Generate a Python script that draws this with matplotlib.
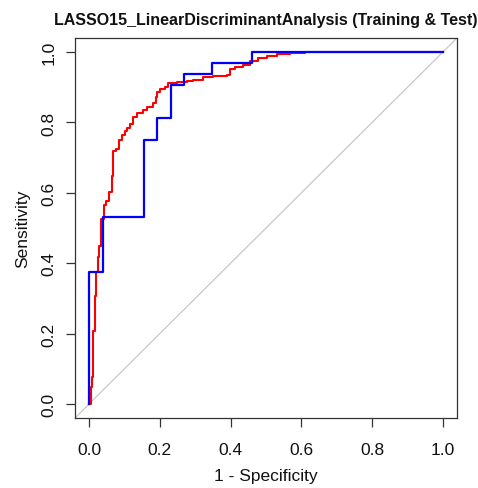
import matplotlib
matplotlib.use("Agg")
import matplotlib.pyplot as plt

# Training ROC (red) - corners
train_fpr = [0.0, 0.0045, 0.0045, 0.008, 0.012, 0.016, 0.0195, 0.024, 0.027, 0.034, 0.043,
             0.048, 0.057, 0.064, 0.068, 0.076, 0.083, 0.092, 0.1015, 0.106, 0.116,
             0.125, 0.135, 0.153, 0.163, 0.1815, 0.188, 0.191, 0.200, 0.215, 0.224,
             0.248, 0.276, 0.295, 0.323, 0.351, 0.389, 0.398, 0.4125, 0.436, 0.455,
             0.478, 0.502, 0.530, 0.568, 0.610, 1.0]
train_tpr = [0.0, 0.019, 0.047, 0.076, 0.208, 0.308, 0.375, 0.418, 0.450, 0.526, 0.564,
             0.578, 0.602, 0.649, 0.720, 0.725, 0.749, 0.763, 0.777, 0.785, 0.796,
             0.815, 0.827, 0.834, 0.844, 0.856, 0.873, 0.886, 0.894, 0.900, 0.913,
             0.915, 0.917, 0.922, 0.929, 0.933, 0.935, 0.952, 0.957, 0.964, 0.974,
             0.983, 0.989, 0.994, 0.998, 1.0, 1.0]

# Test ROC (blue)
test_fpr = [0.0, 0.0, 0.0385, 0.154, 0.192, 0.231, 0.269, 0.346, 0.4615, 1.0]
test_tpr = [0.0, 0.375, 0.531, 0.750, 0.8125, 0.906, 0.9375, 0.969, 1.0, 1.0]

title = "LASSO15_LinearDiscriminantAnalysis (Training & Test)"
xlabel = "1 - Specificity"
ylabel = "Sensitivity"
ticks = [0.0, 0.2, 0.4, 0.6, 0.8, 1.0]
tick_labels = ["0.0", "0.2", "0.4", "0.6", "0.8", "1.0"]

plt.rcParams['font.family'] = ['Liberation Sans', 'DejaVu Sans']

W, H = 478, 489
fig = plt.figure(figsize=(W / 100, H / 100), dpi=100)
ax = fig.add_axes([75 / W, 1 - 419 / H, (457 - 75) / W, (419 - 39) / H])

ax.set_xlim(-0.04, 1.04)
ax.set_ylim(-0.04, 1.04)

ax.plot([-0.04, 1.04], [-0.04, 1.04], color='#c8c8c8', lw=0.9, zorder=1)
ax.plot(train_fpr, train_tpr, color='red', lw=1.5, drawstyle='steps-post', zorder=2)
ax.plot(test_fpr, test_tpr, color='blue', lw=1.6, drawstyle='steps-post', zorder=3)

for s in ax.spines.values():
    s.set_color('#333333')
    s.set_linewidth(0.9)

ax.set_xticks(ticks)
ax.set_xticklabels(tick_labels)
ax.set_yticks(ticks)
ax.set_yticklabels(tick_labels, rotation=90, va='center')
ax.tick_params(direction='out', length=6.5, width=0.9, color='#333333',
               labelsize=12.5, labelcolor='#111111')
ax.tick_params(axis='x', pad=11)
ax.tick_params(axis='y', pad=7)

ax.set_xlabel(xlabel, fontsize=12.5, labelpad=8, color='#111111')
ax.set_ylabel(ylabel, fontsize=12.5, labelpad=8, color='#111111')
ax.set_title(title, fontsize=11.5, fontweight='bold', pad=10, color='#111111',
             x=(266 - 75) / (457 - 75))

fig.savefig("out.png", dpi=100)
